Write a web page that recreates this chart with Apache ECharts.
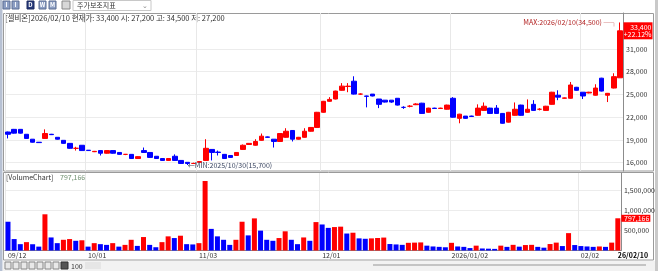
<!DOCTYPE html>
<html><head><meta charset="utf-8">
<script src="https://cdn.jsdelivr.net/npm/echarts@6/dist/echarts.min.js"></script>
<style>html,body{margin:0;padding:0;background:#fff;overflow:hidden}#c{width:658px;height:271px}</style>
</head><body><div id="c"></div><script>
const dates = [
'2025/09/12','2025/09/15','2025/09/16','2025/09/17','2025/09/18','2025/09/19','2025/09/22','2025/09/23','2025/09/24','2025/09/25','2025/09/26','2025/09/29','2025/09/30',
'2025/10/01','2025/10/02','2025/10/10','2025/10/13','2025/10/14','2025/10/15','2025/10/16','2025/10/17','2025/10/20','2025/10/21','2025/10/22','2025/10/23','2025/10/24','2025/10/27','2025/10/28','2025/10/29','2025/10/30','2025/10/31',
'2025/11/03','2025/11/04','2025/11/05','2025/11/06','2025/11/07','2025/11/10','2025/11/11','2025/11/12','2025/11/13','2025/11/14','2025/11/17','2025/11/18','2025/11/19','2025/11/20','2025/11/21','2025/11/24','2025/11/25','2025/11/26','2025/11/27','2025/11/28',
'2025/12/01','2025/12/02','2025/12/03','2025/12/04','2025/12/05','2025/12/08','2025/12/09','2025/12/10','2025/12/11','2025/12/12','2025/12/15','2025/12/16','2025/12/17','2025/12/18','2025/12/19','2025/12/22','2025/12/23','2025/12/24','2025/12/26','2025/12/29','2025/12/30',
'2026/01/02','2026/01/05','2026/01/06','2026/01/07','2026/01/08','2026/01/09','2026/01/12','2026/01/13','2026/01/14','2026/01/15','2026/01/16','2026/01/19','2026/01/20','2026/01/21','2026/01/22','2026/01/23','2026/01/26','2026/01/27','2026/01/28','2026/01/29','2026/01/30',
'2026/02/02','2026/02/03','2026/02/04','2026/02/05','2026/02/06','2026/02/09','2026/02/10'];
const opens = [20050,20400,20400,19750,19100,18700,19200,19750,19350,18950,18550,17900,18300,17650,17450,17600,17250,17600,17350,17100,
17100,16550,17600,17350,16850,16550,16300,16850,16300,16050,15900,16050,16300,17750,17400,17100,16950,16950,17750,18400,
18300,18950,19400,19100,18800,19350,20250,19100,19350,20150,20650,22650,24100,24400,25550,26050,26750,25050,24800,25050,
24400,24250,24250,24500,23300,23450,23650,23850,22650,23200,23150,23050,24500,21850,22150,22150,22250,22900,23200,23200,
22500,21350,22250,23600,22650,23700,23050,22900,23700,24900,24500,24500,25950,25300,25200,24900,27150,24900,25850,27200];
const closes = [19750,19900,19900,19200,18700,18650,19850,19700,19100,18550,17900,17900,17600,17600,17500,17250,17600,17250,17100,17100,
16550,16800,17350,16700,16550,16300,16550,16300,15900,15900,15900,16150,17900,17350,17350,16550,16700,17350,18300,18550,
18800,19500,19350,18800,19850,20150,19100,19350,20150,20650,22650,24100,24350,25450,26100,26100,25050,25050,24750,24800,
23700,24000,24000,23600,23300,23450,23750,22500,23200,23150,23200,23600,22000,22400,21850,22100,23200,23450,22500,22500,
21200,22650,23050,22250,23050,22900,23050,23450,25300,24650,24550,26250,25550,24800,25300,25850,25450,25150,27350,33400];
const lows = [19200,19850,19850,19150,18650,18600,19150,19650,19050,18500,17850,17600,17550,17550,17400,16950,17200,17200,17050,17000,
16500,16500,17300,16650,16500,16250,16250,16250,15850,15700,15850,16000,16250,16300,16950,16500,16650,16900,17700,18350,
18250,18900,19300,18000,18750,19300,18800,19050,19300,20100,20600,22600,24050,24350,25500,25300,25000,24950,23300,24750,
23200,23950,23900,23550,23100,23300,23600,22450,22600,23100,23100,23000,21950,21200,21800,22050,22200,22850,22450,22450,
21150,21300,22200,22200,22600,22850,22900,22850,23650,24250,24450,24450,25500,24400,25150,24850,25400,24000,25800,27200];
const highs = [20100,20450,20400,19750,19100,18700,20400,19800,19350,18950,18550,18100,18300,17650,17550,17600,17650,17600,17350,17150,
17100,16850,18000,17350,16850,16550,16550,17100,16300,16050,16000,16200,19100,17800,17600,17150,16950,17400,18400,18600,
19100,19850,19450,19100,19900,20550,20300,19400,20550,20700,22700,24150,24650,25500,26500,26500,27400,25150,24850,25050,
24400,24250,24250,24500,23450,23600,23850,23900,23250,23250,23250,23650,24650,22450,22150,22200,23700,23950,23250,23600,
22550,22700,23950,23650,24350,24250,23200,23500,25350,25550,24600,26650,26000,25300,25350,26350,27200,25200,27800,34500];
const volumes = [712000,283000,157000,207000,155000,96000,896000,323000,182000,265000,283000,240000,253000,96000,182000,157000,139000,182000,96000,139000,
265000,114000,333000,139000,81000,207000,350000,308000,366000,157000,150000,182000,1720000,535000,350000,265000,139000,265000,712000,374000,
795000,492000,265000,240000,308000,475000,265000,157000,323000,240000,703000,644000,560000,580000,590000,420000,440000,300000,290000,300000,
310000,320000,160000,150000,140000,190000,195000,200000,120000,100000,90000,80000,190000,100000,90000,60000,120000,50000,45000,40000,
120000,90000,140000,95000,135000,140000,90000,70000,160000,195000,110000,430000,135000,110000,100000,90000,100000,90000,195000,797166];
const priceTicks = [16000,19000,22000,25000,28000,31000];
const volumeTicks = [500000,1000000,1500000];
const xTickDates = ['2025/09/12','2025/10/01','2025/11/03','2025/12/01','2026/01/02','2026/02/02','2026/02/10'];
const xTickText = ['09/12','10/01','11/03','12/01','2026/01/02','02/02','26/02/10'];

const RED = '#ff0000', BLUE = '#0000ff';
const FONT = "'Noto Sans CJK KR','Noto Sans',sans-serif";
const candles = dates.map((d,i)=>[opens[i],closes[i],lows[i],highs[i]]);
const volData = volumes.map((v,i)=>({value:v,itemStyle:{color:(i>0 && v>=volumes[i-1])?RED:BLUE}}));
const tickIdx = xTickDates.map(d=>dates.indexOf(d));
const gridIdx = tickIdx.slice(0, tickIdx.length-1);
const lastIdx = dates.length-1;
const fmt = v => Math.round(v).toLocaleString('en-US');
const pct = '+'+((closes[lastIdx]/closes[lastIdx-1]-1)*100).toFixed(2)+'%';

const chart = echarts.init(document.getElementById('c'));
const gridLeft = 4.9, gridRight = 658-623.1;
const option = {
  animation:false,
  backgroundColor:'#ffffff',
  textStyle:{fontFamily:FONT},
  grid:[
    {left:gridLeft,right:gridRight,top:13,height:158},
    {left:gridLeft,right:gridRight,top:173,height:77.5}
  ],
  xAxis:[
    {type:'category',gridIndex:0,data:dates,boundaryGap:true,
     axisLine:{show:false},axisTick:{show:false},axisLabel:{show:false},
     splitLine:{show:true,interval:(i)=>gridIdx.includes(i),lineStyle:{color:'#e8e8e8',width:1}}},
    {type:'category',gridIndex:1,data:dates,boundaryGap:true,
     axisLine:{show:true,lineStyle:{color:'#8c8c8c'}},axisTick:{show:false},
     splitLine:{show:true,interval:(i)=>gridIdx.includes(i),lineStyle:{color:'#e8e8e8',width:1}},
     axisLabel:{show:true,interval:(i)=>tickIdx.includes(i),align:'left',margin:1.5,fontSize:7,color:'#333',fontFamily:FONT,
       formatter:(v)=>{const k=xTickDates.indexOf(v); if(k<0) return ''; return k===xTickDates.length-1?'{b|'+xTickText[k]+'}':xTickText[k];},
       rich:{b:{fontWeight:'bold',color:'#000',fontSize:7,fontFamily:FONT}}}}
  ],
  yAxis:[
    {type:'value',gridIndex:0,position:'right',min:14905,max:35749,scale:true,
     axisLine:{show:true,lineStyle:{color:'#8c8c8c'}},
     axisTick:{show:false,customValues:priceTicks},
     axisLabel:{customValues:priceTicks,formatter:fmt,fontSize:7,color:'#333',margin:3,fontFamily:FONT},
     splitLine:{show:true,lineStyle:{color:'#ececec'}}},
    {type:'value',gridIndex:1,position:'right',min:0,max:1918000,
     axisLine:{show:true,lineStyle:{color:'#8c8c8c'}},
     axisTick:{show:false,customValues:volumeTicks},
     axisLabel:{customValues:volumeTicks,formatter:fmt,fontSize:7,color:'#333',margin:3,fontFamily:FONT},
     splitLine:{show:true,lineStyle:{color:'#ececec'}}}
  ],
  series:[
    {type:'candlestick',xAxisIndex:0,yAxisIndex:0,data:candles,barWidth:5,
     itemStyle:{color:RED,color0:BLUE,borderColor:RED,borderColor0:BLUE,borderWidth:1},
     markPoint:{symbol:'rect',symbolSize:[1,1],itemStyle:{color:'rgba(0,0,0,0)'},animation:false,
       data:[
        {coord:[lastIdx,highs[lastIdx]],label:{show:true,position:'left',distance:2,fontSize:7,color:'#b22222',fontFamily:FONT,
          formatter:'MAX:2026/02/10('+fmt(highs[lastIdx])+') ─┐'}},
        {coord:[29,lows[29]],label:{show:true,position:'right',distance:0,fontSize:7,color:'#3a4560',fontFamily:FONT,
          formatter:'←MIN:2025/10/30('+fmt(lows[29])+')'}},
        {coord:[lastIdx,closes[lastIdx]],label:{show:true,position:'right',distance:3,fontFamily:FONT,
          backgroundColor:RED,padding:[1,1,1,1],
          formatter:'{a|'+fmt(closes[lastIdx])+'}\n{a|'+pct+'}',
          rich:{a:{width:27,align:'right',fontSize:7,lineHeight:7.5,color:'#fff',fontFamily:FONT}}}}
       ]}},
    {type:'bar',xAxisIndex:1,yAxisIndex:1,data:volData,barWidth:5,
     markPoint:{symbol:'rect',symbolSize:[1,1],itemStyle:{color:'rgba(0,0,0,0)'},animation:false,
       data:[{coord:[lastIdx,volumes[lastIdx]],label:{show:true,position:'right',distance:3,fontFamily:FONT,
          backgroundColor:RED,padding:[0,1,0,1],
          formatter:'{a|'+fmt(volumes[lastIdx])+'}',
          rich:{a:{width:27,align:'right',fontSize:7,lineHeight:7,color:'#fff',fontFamily:FONT}}}}]}}
  ],
  graphic:[
    {type:'rect',shape:{x:0,y:0,width:2.5,height:271},style:{fill:'#b7c1d3'},silent:true},
    {type:'rect',shape:{x:3.5,y:13.5,width:650,height:157.5},style:{fill:'none',stroke:'#9a9a9a',lineWidth:1},silent:true},
    {type:'rect',shape:{x:3.5,y:172.5,width:650,height:87.5},style:{fill:'none',stroke:'#9a9a9a',lineWidth:1},silent:true},
    {type:'rect',shape:{x:655,y:0,width:3,height:271},style:{fill:'#c9c9c9'},silent:true,z:100},
    {type:'text',left:5,top:14,style:{text:'[셀비온]2026/02/10 현재가: 33,400 시: 27,200 고: 34,500 저: 27,200',font:'7.5px '+FONT,fill:'#333'},silent:true},
    {type:'text',left:6,top:174,style:{text:'[VolumeChart]',font:'7px '+FONT,fill:'#333'},silent:true},
    {type:'text',left:60,top:174,style:{text:fmt(volumes[lastIdx]),font:'7px '+FONT,fill:'#6f8f6f'},silent:true},
    {type:'group',children:[
      {type:'rect',shape:{x:3,y:1,width:7,height:8},style:{fill:'#8d9fc4',stroke:'#5b6c92'}},
      {type:'rect',shape:{x:12,y:1,width:7,height:8},style:{fill:'#8d9fc4',stroke:'#5b6c92'}},
      {type:'rect',shape:{x:27,y:1,width:7,height:8},style:{fill:'#26397a',stroke:'#1a2a5e'}},
      {type:'rect',shape:{x:39,y:1,width:7,height:8},style:{fill:'#8d9fc4',stroke:'#5b6c92'}},
      {type:'rect',shape:{x:49,y:1,width:7,height:8},style:{fill:'#8d9fc4',stroke:'#5b6c92'}},
      {type:'rect',shape:{x:62,y:1,width:8,height:8},style:{fill:'#d8d8d8',stroke:'#888'}},
      {type:'text',x:6.5,y:5,style:{text:'I',font:'bold 6px '+FONT,fill:'#fff',align:'center',verticalAlign:'middle'}},
      {type:'text',x:15.5,y:5,style:{text:'I',font:'bold 6px '+FONT,fill:'#fff',align:'center',verticalAlign:'middle'}},
      {type:'text',x:30.5,y:5,style:{text:'D',font:'bold 6px '+FONT,fill:'#fff',align:'center',verticalAlign:'middle'}},
      {type:'text',x:42.5,y:5,style:{text:'W',font:'bold 6px '+FONT,fill:'#fff',align:'center',verticalAlign:'middle'}},
      {type:'text',x:52.5,y:5,style:{text:'M',font:'bold 6px '+FONT,fill:'#fff',align:'center',verticalAlign:'middle'}},
      {type:'rect',shape:{x:73,y:0.5,width:78,height:10},style:{fill:'#fff',stroke:'#c8c8c8'}},
      {type:'text',x:77,y:5.5,style:{text:'주가보조지표',font:'7px '+FONT,fill:'#333',verticalAlign:'middle'}},
      {type:'text',x:142,y:5.5,style:{text:'⌄',font:'7px '+FONT,fill:'#888',verticalAlign:'middle'}}
    ],silent:true},
    {type:'group',children:[
      {type:'rect',shape:{x:3,y:261,width:652,height:10},style:{fill:'#f2f2f2'}},
      {type:'rect',shape:{x:5,y:262,width:6,height:7},style:{fill:'#e8e8e8',stroke:'#888'}},
      {type:'rect',shape:{x:13,y:262,width:6,height:7},style:{fill:'#e8e8e8',stroke:'#888'}},
      {type:'rect',shape:{x:21,y:262,width:6,height:7},style:{fill:'#e8e8e8',stroke:'#888'}},
      {type:'rect',shape:{x:29,y:262,width:6,height:7},style:{fill:'#e8e8e8',stroke:'#888'}},
      {type:'rect',shape:{x:37,y:262,width:6,height:7},style:{fill:'#e8e8e8',stroke:'#888'}},
      {type:'rect',shape:{x:45,y:262,width:6,height:7},style:{fill:'#e8e8e8',stroke:'#888'}},
      {type:'rect',shape:{x:53,y:262,width:6,height:7},style:{fill:'#e8e8e8',stroke:'#888'}},
      {type:'rect',shape:{x:61,y:262,width:7,height:7},style:{fill:'#555',stroke:'#333'}},
      {type:'text',x:71,y:266,style:{text:'100',font:'7px '+FONT,fill:'#333',verticalAlign:'middle'}},
      {type:'rect',shape:{x:85,y:262,width:16,height:7},style:{fill:'#e6e6e6'}},
      {type:'rect',shape:{x:373,y:264,width:273,height:2},style:{fill:'#c4c4c4'}}
    ],silent:true}
  ]
};
chart.setOption(option);
</script></body></html>
